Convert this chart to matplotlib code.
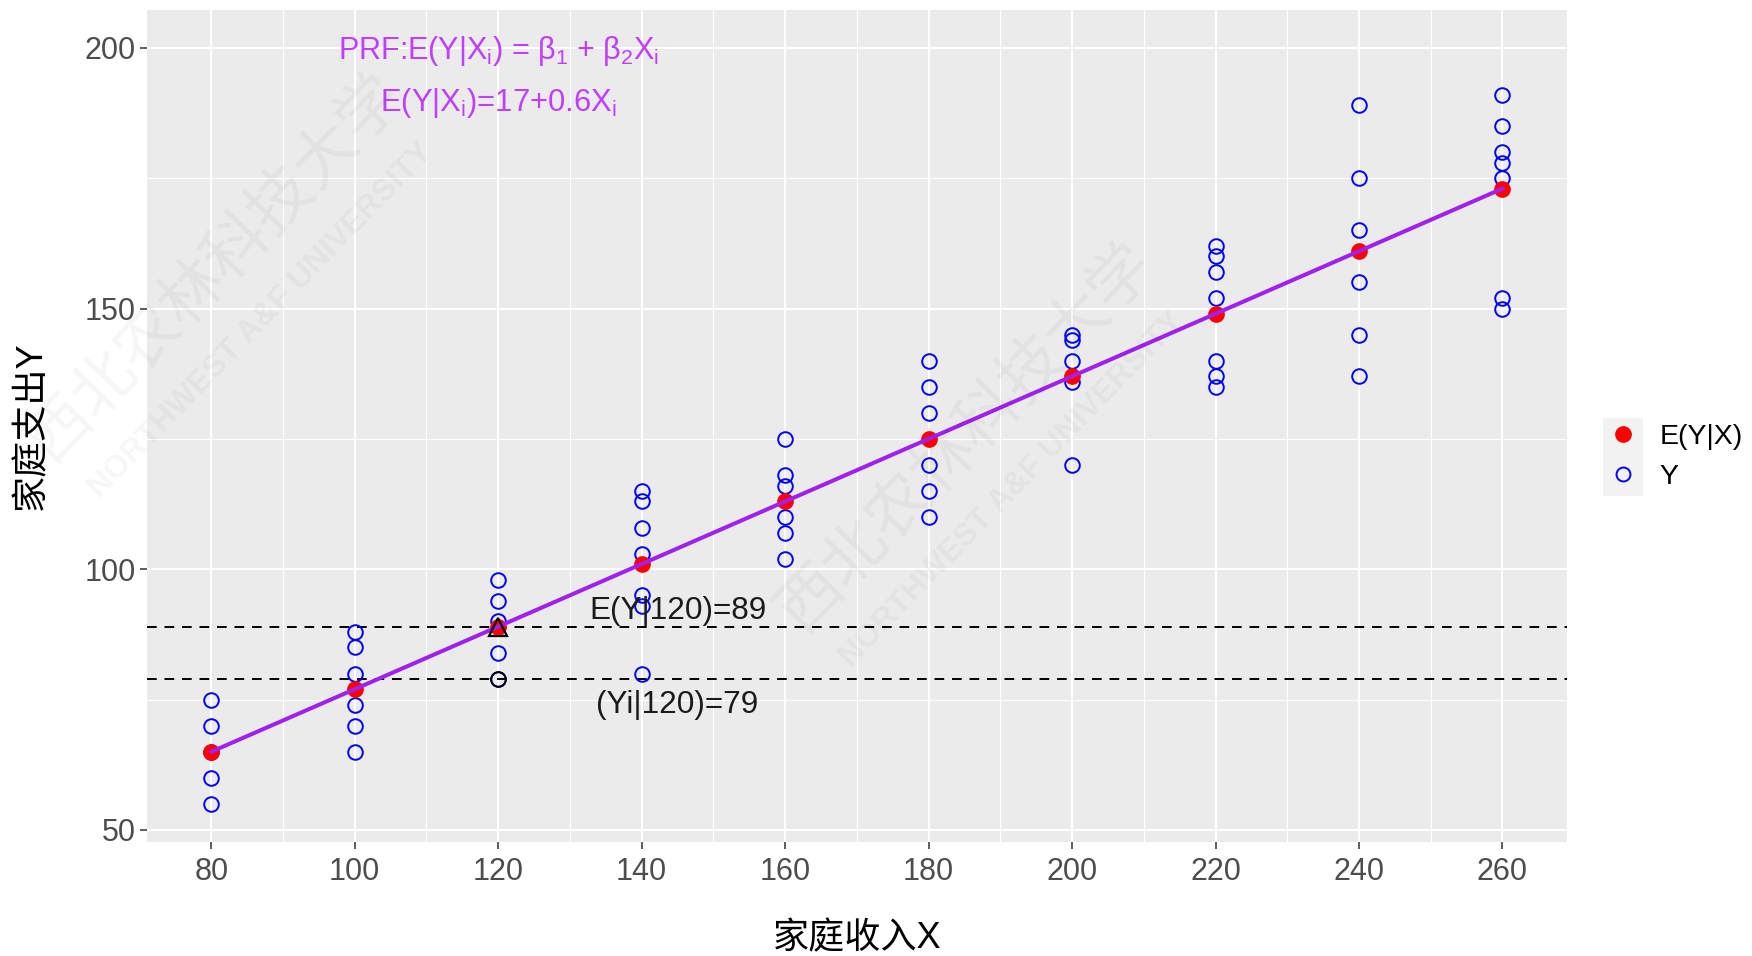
import matplotlib
matplotlib.use("Agg")
import matplotlib.pyplot as plt
from matplotlib.lines import Line2D
from matplotlib.patches import Rectangle
import numpy as np

plt.rcParams['font.family'] = ['Liberation Sans', 'Noto Sans CJK SC', 'DejaVu Sans']
plt.rcParams['mathtext.fontset'] = 'custom'
plt.rcParams['mathtext.rm'] = 'Liberation Sans'
plt.rcParams['mathtext.it'] = 'Liberation Sans:italic'
plt.rcParams['mathtext.bf'] = 'Liberation Sans:bold'

# ---------------- data ----------------
income_levels = [80, 100, 120, 140, 160, 180, 200, 220, 240, 260]
y_80 = [55, 60, 65, 70, 75]
y_100 = [65, 70, 74, 80, 85, 88]
y_120 = [79, 84, 90, 94, 98]
y_140 = [80, 93, 95, 103, 108, 113, 115]
y_160 = [102, 107, 110, 116, 118, 125]
y_180 = [110, 115, 120, 130, 135, 140]
y_200 = [120, 136, 140, 144, 145]
y_220 = [135, 137, 140, 152, 157, 160, 162]
y_240 = [137, 145, 155, 165, 175, 189]
y_260 = [150, 152, 175, 178, 180, 185, 191]
y_groups = [y_80, y_100, y_120, y_140, y_160, y_180, y_200, y_220, y_240, y_260]
cond_means = [65, 77, 89, 101, 113, 125, 137, 149, 161, 173]

highlight_x = 120
highlight_mean = 89
highlight_obs = 79

x_ticks = [80, 100, 120, 140, 160, 180, 200, 220, 240, 260]
y_ticks = [50, 100, 150, 200]

x_title = "家庭收入X"
y_title = "家庭支出Y"
legend_labels = ["E(Y|X)", "Y"]
prf_text = r"PRF:E(Y|X$_{\mathrm{i}}$) = β$_{\mathrm{1}}$ + β$_{\mathrm{2}}$X$_{\mathrm{i}}$"
fit_text = r"E(Y|X$_{\mathrm{i}}$)=17+0.6X$_{\mathrm{i}}$"
mean_label = "E(Y|120)=89"
obs_label = "(Yi|120)=79"

# ---------------- figure ----------------
W, H = 1752, 956
fig = plt.figure(figsize=(W / 100, H / 100), dpi=100)
fig.patch.set_facecolor('white')

L, R, T, B = 146.7, 1567, 10, 841.7
ax = fig.add_axes([L / W, 1 - B / H, (R - L) / W, (B - T) / H])
ax.set_facecolor('#EBEBEB')
for s in ax.spines.values():
    s.set_visible(False)

ax.set_xlim(71, 269)
ax.set_ylim(47.75, 207.25)
ax.set_xticks(x_ticks)
ax.set_yticks(y_ticks)
ax.set_xticks([90, 110, 130, 150, 170, 190, 210, 230, 250], minor=True)
ax.set_yticks([75, 125, 175], minor=True)
ax.grid(which='major', color='white', lw=1.5, zorder=0)
ax.grid(which='minor', color='white', lw=0.8, zorder=0)
ax.set_axisbelow(True)
ax.tick_params(which='major', length=5, width=1.1, color='#333333',
               labelsize=22, labelcolor='#4D4D4D')
ax.tick_params(axis='x', which='major', pad=6)
ax.tick_params(axis='y', which='major', pad=3)
ax.tick_params(which='minor', length=0)

# dashed reference lines
ax.axhline(highlight_mean, color='black', ls=(0, (5, 4)), lw=1.4, zorder=1)
ax.axhline(highlight_obs, color='black', ls=(0, (5, 4)), lw=1.4, zorder=1)

# observations
xs = []
ys = []
for xv, grp in zip(income_levels, y_groups):
    xs.extend([xv] * len(grp))
    ys.extend(grp)
ax.plot(xs, ys, ls='none', marker='o', ms=10.5, mfc='none', mec='#0000FF', mew=1.4, zorder=3)

# conditional means and PRF line
ax.plot(income_levels, cond_means, ls='none', marker='o', ms=11, color='#FF0000', zorder=4)
ax.plot(income_levels, cond_means, color='#A020F0', lw=2.9, zorder=5)

# highlighted points
ax.plot([highlight_x], [highlight_mean], ls='none', marker='^', ms=13, mfc='none', mec='black', mew=1.6, zorder=6)
ax.plot([highlight_x], [highlight_obs], ls='none', marker='o', ms=10.5, mfc='none', mec='black', mew=1.4, zorder=6)

# annotations
ax.text(120, 199.3, prf_text, color='#BF3EFF', fontsize=22, ha='center', va='center', zorder=7)
ax.text(120, 189.5, fit_text, color='#BF3EFF', fontsize=22.3, ha='center', va='center', zorder=7)
ax.text(145, 92, mean_label, color='#1A1A1A', fontsize=22.7, ha='center', va='center', zorder=7)
ax.text(145, 74, obs_label, color='#1A1A1A', fontsize=22.7, ha='center', va='center', zorder=7)

ax.set_xlabel(x_title, fontsize=26, color='black', labelpad=25)
ax.set_ylabel(y_title, fontsize=26, color='black', labelpad=25)

# legend
handles = [Line2D([], [], ls='none', marker='o', ms=11, color='#FF0000'),
           Line2D([], [], ls='none', marker='o', ms=10, mfc='none', mec='#0000FF', mew=1.4)]
leg = ax.legend(handles, legend_labels, loc='center left',
                bbox_to_anchor=(1603 / W, 1 - 457 / H), bbox_transform=fig.transFigure,
                frameon=False, borderpad=0, borderaxespad=0, handlelength=1.38,
                handletextpad=0.6, labelspacing=0.48, fontsize=20.5)
fig.add_artist(Rectangle((1603 / W, 1 - 496 / H), 40 / W, 78 / H, transform=fig.transFigure,
                         facecolor='#F2F2F2', edgecolor='none', zorder=-1))

# faint watermark
wm_cn = "西北农林科技大学"
wm_en = "NORTHWEST A&F UNIVERSITY"
for (cx, cy) in [(215, 268), (966, 437)]:
    fig.text(cx / W, 1 - cy / H, wm_cn, fontsize=46, rotation=46, ha='center', va='center',
             rotation_mode='anchor', color='black', alpha=0.04,
             family=['Noto Sans CJK SC'], zorder=10)
    fig.text((cx + 46) / W, 1 - (cy + 52) / H, wm_en, fontsize=23, fontweight='bold', rotation=46,
             ha='center', va='center', rotation_mode='anchor', color='black', alpha=0.035, zorder=10)

fig.savefig("out.png", dpi=100)
